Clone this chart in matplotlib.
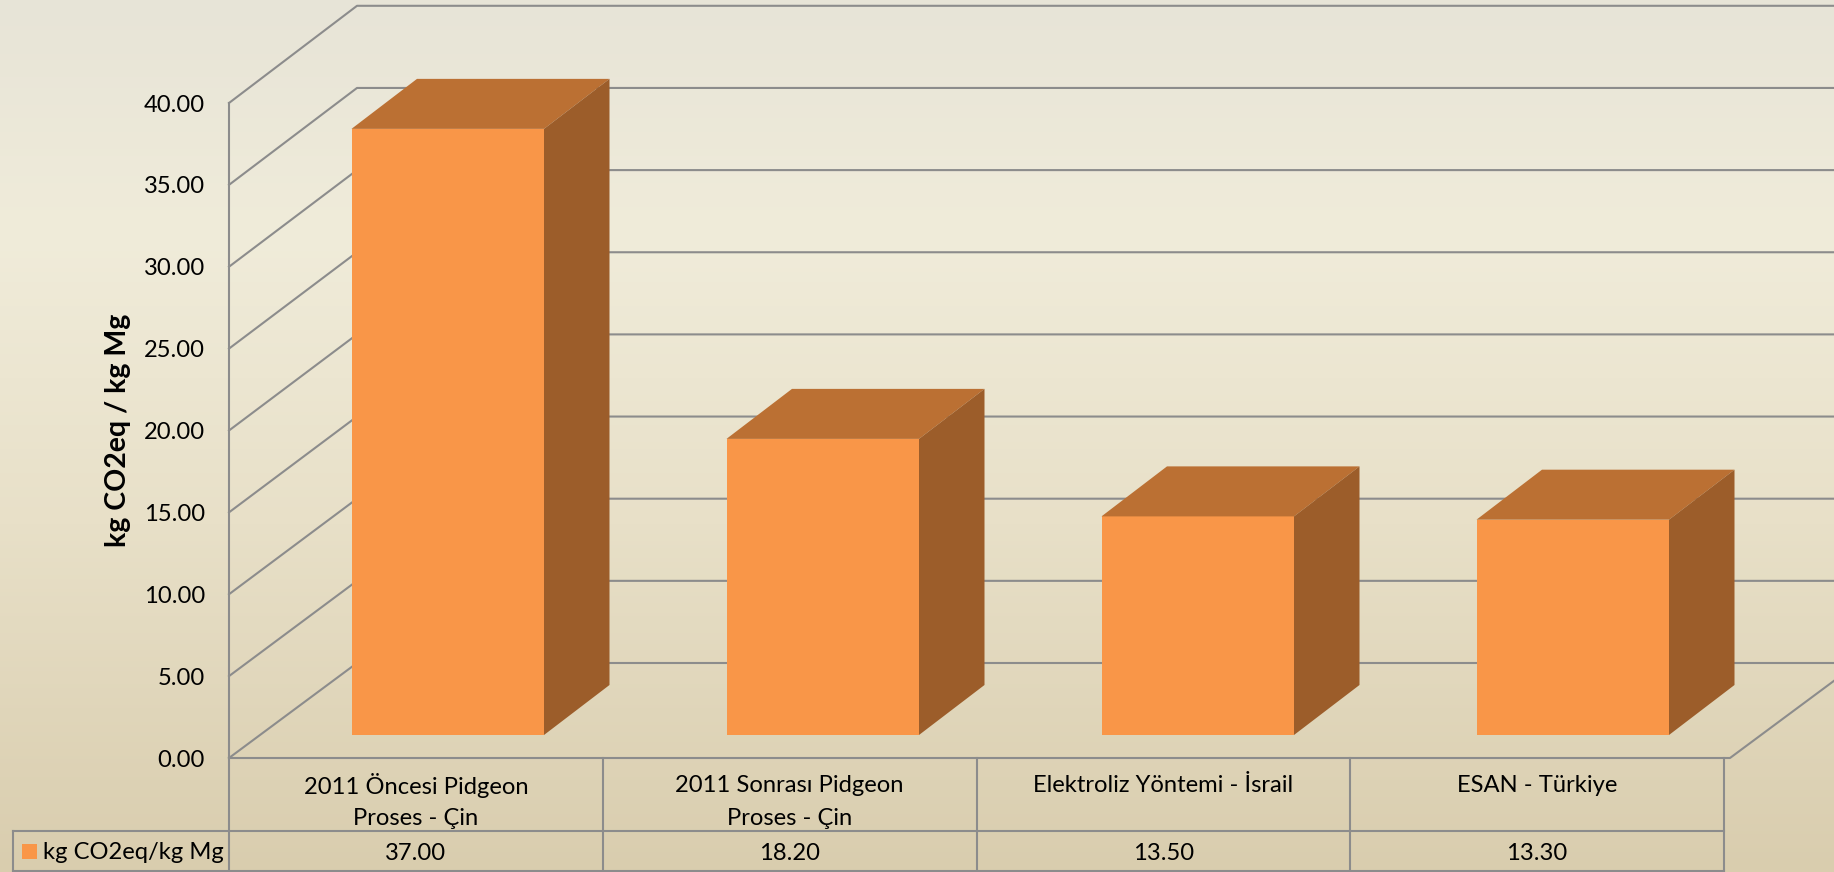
import numpy as np
import matplotlib
matplotlib.use('Agg')
import matplotlib.pyplot as plt
from matplotlib.colors import LinearSegmentedColormap

categories = ['2011 Öncesi Pidgeon\nProses - Çin', '2011 Sonrası Pidgeon\nProses - Çin',
              'Elektroliz Yöntemi - İsrail', 'ESAN - Türkiye']
values = [37.00, 18.20, 13.50, 13.30]
yticks = [0, 5, 10, 15, 20, 25, 30, 35, 40]
series_name = 'kg CO2eq/kg Mg'
ylabel = 'kg CO2eq / kg Mg'

plt.rcParams['font.family'] = ['Lato', 'DejaVu Sans']

W, H = 1834, 872
CAT = 373.75     # pixels per category
UNIT = 16.375    # pixels per y unit
X0, Y0 = 229, 758  # pixel position of the axes origin
LINE = '#8C8C8C'
LW = 1.5
FS = 17.1

fig = plt.figure(figsize=(W / 100, H / 100), dpi=100)

# slide background
bg = fig.add_axes([0, 0, 1, 1], zorder=0)
bg.axis('off')
cmap = LinearSegmentedColormap.from_list('bg', [(0, '#E7E4D7'), (0.27, '#F0ECDA'), (0.6, '#E8E0C8'), (1, '#D9CDAE')])
bg.imshow(np.linspace(0, 1, 256).reshape(-1, 1), cmap=cmap, aspect='auto', vmin=0, vmax=1)

ax = fig.add_axes([0, 0, 1, 1], zorder=1)
ax.patch.set_alpha(0)
ax.axis('off')
ax.set_xlim(-X0 / CAT, (W - X0) / CAT)
ax.set_ylim(-(H - Y0) / UNIT, Y0 / UNIT)

n = len(categories)
wall_dx, wall_dy = 128 / CAT, 95 / UNIT
wall_scale = 16.43 / UNIT
right_edge = (W - X0) / CAT
label_shift = -2 / UNIT

# side wall diagonals and back wall lines
for t in yticks:
    back = t * wall_scale + wall_dy
    ax.plot([0, wall_dx, right_edge], [t, back, back], color=LINE, lw=LW, zorder=2)
    ax.text(-24 / CAT, t + label_shift, f'{t:.2f}', ha='right', va='center', fontsize=FS, color='black')
ax.plot([0, 0], [0, yticks[-1]], color=LINE, lw=LW, zorder=2)

# floor right edge
ax.plot([0, n + 6 / CAT, right_edge], [0, 0, (right_edge - n - 6 / CAT) * wall_dy / wall_dx], color=LINE, lw=LW, zorder=2)

# bars
off_x, base = 122.5 / CAT, 23 / UNIT
step = 375 / CAT
bar_w = 192.5 / CAT
dep_x, dep_y = 65.5 / CAT, 50 / UNIT
scale = 16.49 / UNIT
top_base = 19 / UNIT
for i, v in enumerate(values):
    left = i * step + off_x
    right = left + bar_w
    top = top_base + v * scale
    ax.fill([left, right, right, left], [base, base, top, top], color='#F99648', lw=0, zorder=3)
    ax.fill([left, left + dep_x, right + dep_x, right], [top, top + dep_y, top + dep_y, top], color='#BB7033', lw=0, zorder=3)
    ax.fill([right, right + dep_x, right + dep_x, right], [base, base + dep_y, top + dep_y, top], color='#9C5D2A', lw=0, zorder=3)

# data table
row_y = -73 / UNIT
bottom = -113 / UNIT
table_left = -216 / CAT
for i in range(n + 1):
    ax.plot([i, i], [0, -(H - Y0) / UNIT], color=LINE, lw=LW, zorder=2)
ax.plot([table_left, n], [row_y, row_y], color=LINE, lw=LW, zorder=2)
ax.plot([table_left, n], [bottom, bottom], color=LINE, lw=LW, zorder=2)
ax.plot([table_left, table_left], [row_y, -(H - Y0) / UNIT], color=LINE, lw=LW, zorder=2)
for i, (c, v) in enumerate(zip(categories, values)):
    parts = c.split('\n')
    ax.text(i + 0.5, -27 / UNIT, parts[0], ha='center', va='center', fontsize=FS, color='black')
    if len(parts) > 1:
        ax.text(i + 0.5, -60 / UNIT, parts[1], ha='center', va='center', fontsize=FS, color='black')
    ax.text(i + 0.5, -95 / UNIT, f'{v:.2f}', ha='center', va='center', fontsize=FS, color='black')

# legend key in the table
ax.fill([-207 / CAT, -192 / CAT, -192 / CAT, -207 / CAT], [-86 / UNIT, -86 / UNIT, -101 / UNIT, -101 / UNIT], color='#F99648', lw=0, zorder=3)
ax.text(-186 / CAT, -94 / UNIT, series_name, ha='left', va='center', fontsize=FS, color='black')

ax.text(-111 / CAT, 328 / UNIT, ylabel, rotation=90, ha='center', va='center', fontsize=20.5, fontweight='bold', color='black')

fig.savefig('out.png', dpi=100)
